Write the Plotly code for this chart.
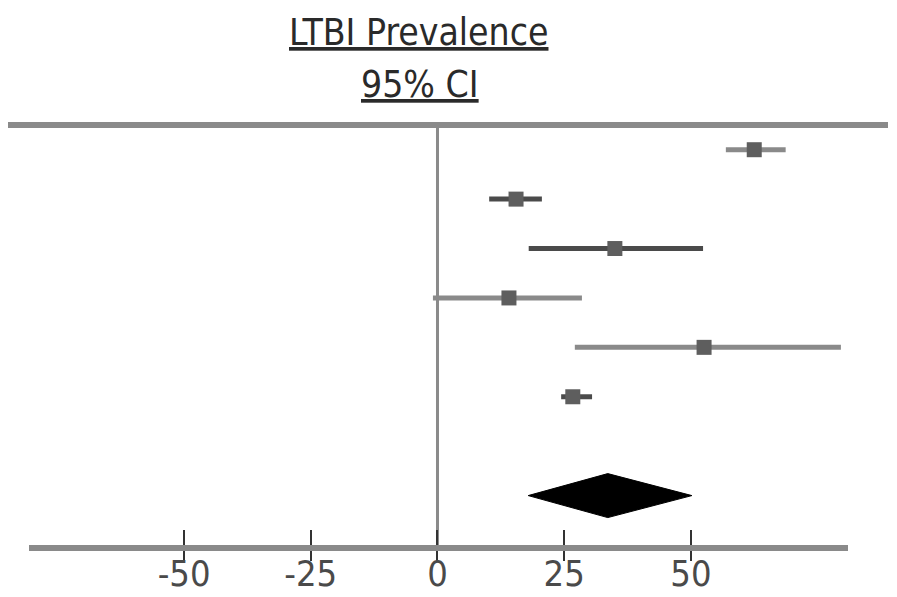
import plotly.graph_objects as go

# ---- data ----
study_rows = [1, 2, 3, 4, 5, 6]
estimates = [62.5, 15.5, 35.0, 14.1, 52.6, 26.7]
ci_lower = [56.9, 10.2, 18.0, -0.9, 27.1, 24.4]
ci_upper = [68.7, 20.6, 52.4, 28.5, 79.6, 30.5]
pooled_row = 8
pooled_est = 33.6
pooled_lower = 17.9
pooled_upper = 50.2
tick_values = [-50, -25, 0, 25, 50]
tick_labels = ["-50", "-25", "0", "25", "50"]
title_text = "LTBI Prevalence"
subtitle_text = "95% CI"

# ---- style ----
FONT = "DejaVu Sans Condensed, Liberation Sans Narrow, Liberation Sans, sans-serif"
line_colors = ["#8a8a8a", "#4a4a4a", "#4a4a4a", "#8a8a8a", "#8a8a8a", "#4a4a4a"]
diamond_half = 0.445

fig = go.Figure()

for i, r in enumerate(study_rows):
    fig.add_trace(go.Scatter(
        x=[ci_lower[i], ci_upper[i]], y=[r, r], mode="lines",
        line=dict(color=line_colors[i], width=5), showlegend=False, hoverinfo="skip"))

fig.add_trace(go.Scatter(
    x=estimates, y=study_rows, mode="markers",
    marker=dict(symbol="square", size=15, color="#5e5e5e"),
    showlegend=False))

fig.add_trace(go.Scatter(
    x=[pooled_lower, pooled_est, pooled_upper, pooled_est, pooled_lower],
    y=[pooled_row, pooled_row - diamond_half, pooled_row, pooled_row + diamond_half, pooled_row],
    mode="lines", fill="toself", fillcolor="black", line=dict(color="black", width=1),
    showlegend=False))

# overlay axis carrying the upward half of the tick marks
fig.add_trace(go.Scatter(x=[0], y=[pooled_row], xaxis="x2", mode="markers",
                         marker=dict(opacity=0), showlegend=False, hoverinfo="skip"))

xr = [-80.6, 81.0]
L, R, T, B = 21, 49, 117, 52
W, H = 889, 589
pw = W - L - R
ph = H - T - B

fig.update_layout(
    width=W, height=H,
    margin=dict(l=L, r=R, t=T, b=B),
    paper_bgcolor="white", plot_bgcolor="white",
    font=dict(family=FONT, color="#333"),
    xaxis=dict(range=xr, tickvals=tick_values, ticktext=tick_labels, automargin=False,
               showgrid=False, zeroline=False, showline=True, linecolor="#8a8a8a", linewidth=6,
               ticks="outside", ticklen=10, tickwidth=2, tickcolor="#333",
               ticklabelstandoff=-18,
               tickfont=dict(size=36, color="#4a4a4a", family=FONT)),
    xaxis2=dict(range=xr, overlaying="x", anchor="y", side="bottom", automargin=False,
                tickvals=tick_values, showticklabels=False, showgrid=False, zeroline=False,
                showline=False, ticks="inside", ticklen=15, tickwidth=2, tickcolor="#333"),
    yaxis=dict(range=[9, 0.5], showgrid=False, zeroline=False, showticklabels=False,
               showline=False, ticks="", automargin=False),
    shapes=[
        dict(type="line", xref="paper", yref="paper", x0=-L/pw, x1=(880-L)/pw, y0=1, y1=1,
             line=dict(color="#8a8a8a", width=6)),
        dict(type="line", xref="x", yref="paper", x0=0, x1=0, y0=0, y1=1,
             line=dict(color="#8a8a8a", width=3), layer="below"),
    ],
    annotations=[
        dict(text="<u>" + title_text + "</u>", xref="paper", yref="paper",
             x=(410.5-L)/pw, y=(H-B-0.5)/ph,
             xanchor="center", yanchor="top", showarrow=False,
             font=dict(size=37, color="#2a2a2a", family=FONT)),
        dict(text="<u>" + subtitle_text + "</u>", xref="paper", yref="paper",
             x=(412-L)/pw, y=(H-B-76.5)/ph,
             xanchor="center", yanchor="middle", showarrow=False,
             font=dict(size=37, color="#2a2a2a", family=FONT)),
    ],
)

fig.write_html("out.html")
